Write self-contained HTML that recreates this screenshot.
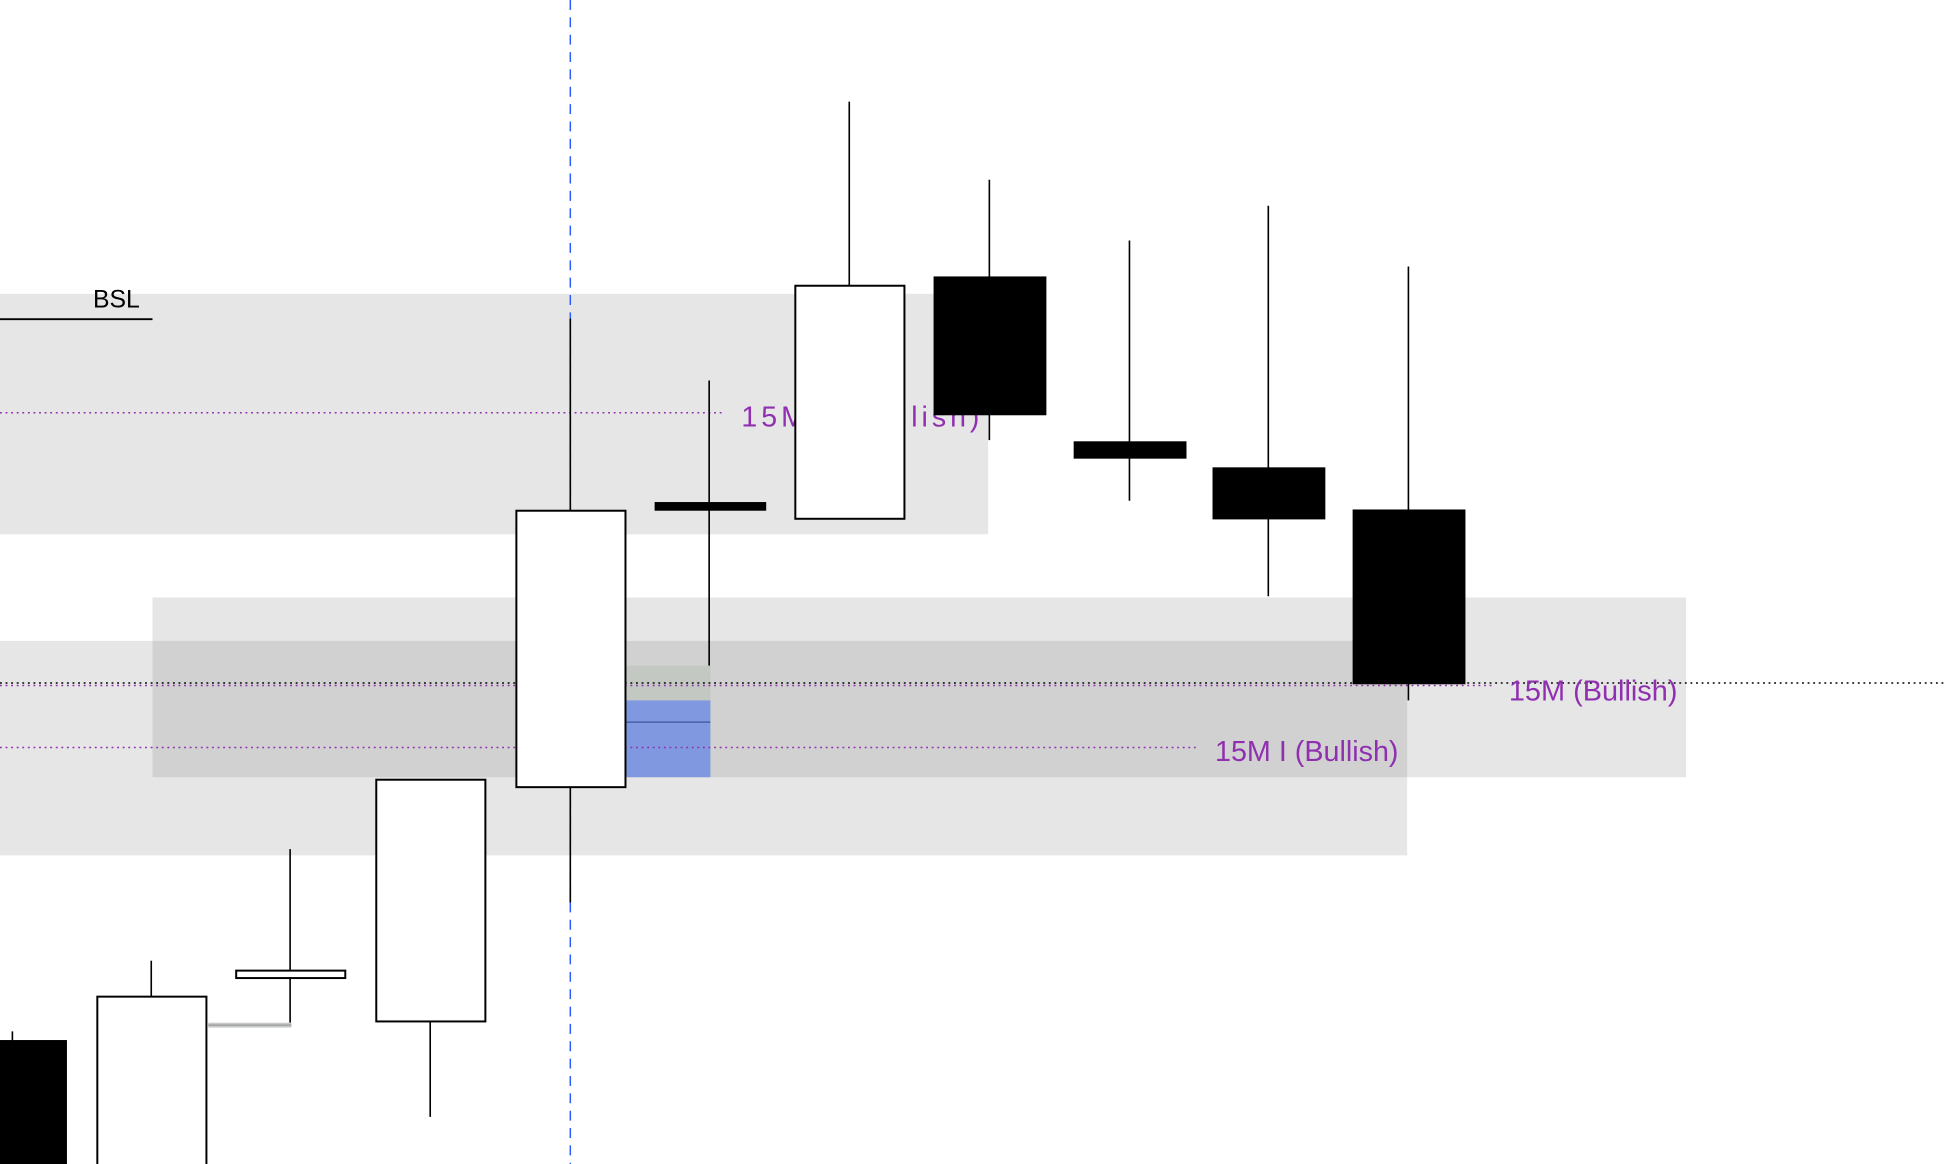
<!DOCTYPE html>
<html><head><style>html,body{margin:0;padding:0;background:#fff;width:1944px;height:1164px;overflow:hidden}svg{display:block}</style></head>
<body>
<svg width="1944" height="1164" viewBox="0 0 1568 939" preserveAspectRatio="none" xmlns="http://www.w3.org/2000/svg" font-family="Liberation Sans, sans-serif">
<rect width="1568" height="939" fill="#fff"/>
<rect x="0" y="237" width="797" height="194" fill="#e6e6e6"/>
<rect x="123" y="482" width="1237" height="145" fill="#e6e6e6"/>
<rect x="0" y="517" width="1135" height="173" fill="#e6e6e6"/>
<rect x="123" y="517" width="1012" height="110" fill="#d1d1d1"/>
<rect x="505" y="537" width="68" height="28" fill="#c3c8c3"/>
<rect x="505" y="565" width="68" height="62" fill="#8098e0"/>
<line x1="505" y1="582.5" x2="573" y2="582.5" stroke="#4a5fa8" stroke-width="1.2"/>
<line x1="460" y1="0" x2="460" y2="939" stroke="#2a5cff" stroke-width="1.2" stroke-dasharray="8,6"/>
<line x1="0" y1="333" x2="585" y2="333" stroke="#9030b0" stroke-width="1.2" stroke-dasharray="1.5,3"/>
<line x1="0" y1="553" x2="1205" y2="553" stroke="#9030b0" stroke-width="1.2" stroke-dasharray="1.5,3"/>
<line x1="0" y1="603" x2="965" y2="603" stroke="#9030b0" stroke-width="1.2" stroke-dasharray="1.5,3"/>
<line x1="0" y1="551" x2="1568" y2="551" stroke="#000" stroke-width="1.2" stroke-dasharray="1.5,3"/>
<g fill="#9030b0" font-size="23">
<text x="598" y="344" textLength="192" lengthAdjust="spacing">15M I (Bullish)</text>
<text x="1217" y="565" textLength="136" lengthAdjust="spacingAndGlyphs">15M (Bullish)</text>
<text x="980" y="614" textLength="148" lengthAdjust="spacingAndGlyphs">15M I (Bullish)</text>
</g>
<text x="75" y="248" font-size="20" fill="#000">BSL</text>
<line x1="0" y1="257.5" x2="123" y2="257.5" stroke="#000" stroke-width="1.5"/>
<rect x="168" y="825" width="67" height="4" fill="#c8ccc8"/>
<line x1="168" y1="827" x2="235" y2="827" stroke="#999" stroke-width="1"/>
<g stroke="#000" stroke-width="1.3">
<line x1="10" y1="832" x2="10" y2="840"/>
<line x1="122" y1="775" x2="122" y2="804"/>
<line x1="234" y1="685" x2="234" y2="825"/>
<line x1="347" y1="824" x2="347" y2="901"/>
<line x1="460" y1="257" x2="460" y2="728"/>
<line x1="572" y1="307" x2="572" y2="537"/>
<line x1="685" y1="82" x2="685" y2="230"/>
<line x1="798" y1="145" x2="798" y2="355"/>
<line x1="911" y1="194" x2="911" y2="404"/>
<line x1="1023" y1="166" x2="1023" y2="481"/>
<line x1="1136" y1="215" x2="1136" y2="565"/>
</g>
<g stroke="#000" stroke-width="1.6" fill="#fff">
<rect x="78.5" y="804" width="88" height="140"/>
<rect x="190.5" y="783" width="88" height="6"/>
<rect x="303.5" y="629" width="88" height="195"/>
<rect x="416.5" y="412" width="88" height="223"/>
<rect x="641.5" y="230.5" width="88" height="188"/>
</g>
<g fill="#000">
<rect x="0" y="839" width="54" height="100"/>
<rect x="528" y="405" width="90" height="7"/>
<rect x="753" y="223" width="91" height="112"/>
<rect x="866" y="356" width="91" height="14"/>
<rect x="978" y="377" width="91" height="42"/>
<rect x="1091" y="411" width="91" height="141"/>
</g>
</svg>
</body></html>
